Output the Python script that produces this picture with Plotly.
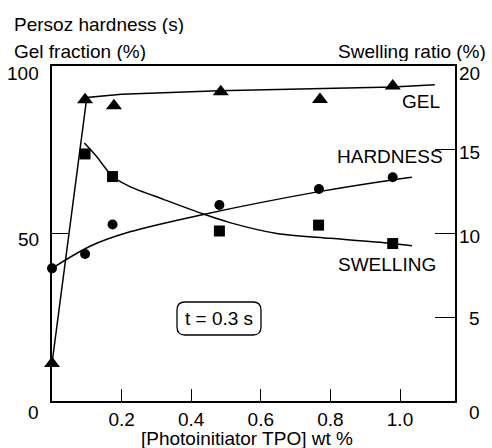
import plotly.graph_objects as go

# ---------------- data ----------------
gel_x = [0.0, 0.095, 0.178, 0.485, 0.770, 0.979]
gel_y = [11.2, 89.9, 88.1, 92.3, 90.0, 94.0]
gel_fit_x = [0.0, 0.10, 0.20, 0.48, 0.98, 1.10]
gel_fit_y = [11.2, 90.6, 91.6, 92.6, 93.7, 94.4]

hard_x = [0.0, 0.095, 0.174, 0.481, 0.767, 0.979]
hard_y = [39.6, 43.9, 52.7, 58.5, 63.3, 66.8]
hard_fit_x = [0.0, 0.109, 0.224, 0.435, 0.767, 0.977, 1.034]
hard_fit_y = [39.6, 46.2, 50.5, 55.7, 62.5, 66.0, 66.8]

swell_x = [0.095, 0.174, 0.481, 0.766, 0.979]
swell_y = [14.75, 13.4, 10.15, 10.5, 9.4]
swell_fit_x = [0.093, 0.128, 0.174, 0.224, 0.32, 0.435, 0.511, 0.646, 0.799, 0.979, 1.034]
swell_fit_y = [15.4, 14.6, 13.4, 12.8, 12.04, 11.16, 10.65, 10.0, 9.71, 9.41, 9.27]

x_ticks = [0.2, 0.4, 0.6, 0.8, 1.0]
x_tick_text = ["0.2", "0.4", "0.6", "0.8", "1.0"]
left_ticks = [100, 50]
left_tick_text = ["100", "50"]
right_ticks = [20, 15, 10, 5, 0]
right_tick_text = ["20", "15", "10", "5", "0"]

# ---------------- layout geometry ----------------
W, H = 492, 448
L, R, T, B = 52, 37, 66, 47
PW, PH = W - L - R, H - T - B


def px_x(px):
    return (px - L) / PW


def px_y(py):
    return (H - B - py) / PH


FONT = "Liberation Sans, Arial, sans-serif"
FS = 19
BLACK = "black"

fig = go.Figure()

# fitted lines
fig.add_trace(go.Scatter(x=gel_fit_x, y=gel_fit_y, mode="lines", cliponaxis=False,
                         line=dict(color=BLACK, width=1.5), showlegend=False))
fig.add_trace(go.Scatter(x=hard_fit_x, y=hard_fit_y, mode="lines", cliponaxis=False,
                         line=dict(color=BLACK, width=1.5, shape="spline", smoothing=0.8),
                         showlegend=False))
fig.add_trace(go.Scatter(x=swell_fit_x, y=swell_fit_y, mode="lines", yaxis="y2",
                         line=dict(color=BLACK, width=1.5, shape="spline", smoothing=0.8),
                         showlegend=False))

# markers
fig.add_trace(go.Scatter(x=gel_x, y=gel_y, mode="markers", cliponaxis=False,
                         marker=dict(symbol="triangle-up", size=14, color=BLACK),
                         showlegend=False))
fig.add_trace(go.Scatter(x=hard_x, y=hard_y, mode="markers", cliponaxis=False,
                         marker=dict(symbol="circle", size=10, color=BLACK),
                         showlegend=False))
fig.add_trace(go.Scatter(x=swell_x, y=swell_y, mode="markers", yaxis="y2", cliponaxis=False,
                         marker=dict(symbol="square", size=11, color=BLACK),
                         showlegend=False))

annotations = []
# "0" label at bottom-left corner
annotations.append(dict(text="0", xref="paper", yref="paper", x=px_x(33), y=px_y(412),
                        showarrow=False, xanchor="center", yanchor="middle",
                        font=dict(family=FONT, size=FS, color=BLACK)))
# left tick labels
left_shift = {100: -7, 50: -5}
for v, t in zip(left_ticks, left_tick_text):
    annotations.append(dict(text=t, xref="paper", yref="y", x=0, y=v, height=20,
                            xshift=-11, yshift=left_shift[v], showarrow=False,
                            xanchor="right", yanchor="middle",
                            font=dict(family=FONT, size=FS, color=BLACK)))
# right tick labels
right_shift = {20: -7, 15: -2, 10: -2, 5: -1, 0: -11}
for v, t in zip(right_ticks, right_tick_text):
    annotations.append(dict(text=t, xref="paper", yref="y2", x=1, y=v, height=20,
                            xshift=27, yshift=right_shift[v], showarrow=False,
                            xanchor="right", yanchor="middle",
                            font=dict(family=FONT, size=FS, color=BLACK)))

# series labels
for txt, xv, yv in [("GEL", 1.061, 89.3), ("HARDNESS", 0.972, 72.9), ("SWELLING", 0.963, 40.6)]:
    annotations.append(dict(text=txt, xref="x", yref="y", x=xv, y=yv, showarrow=False,
                            xanchor="center", yanchor="middle",
                            font=dict(family=FONT, size=FS, color=BLACK)))

# axis titles
annotations.append(dict(text="Persoz hardness (s)", xref="paper", yref="paper",
                        x=px_x(12), y=px_y(24), showarrow=False, xanchor="left", height=20,
                        yanchor="middle", font=dict(family=FONT, size=FS, color=BLACK)))
annotations.append(dict(text="Gel fraction (%)", xref="paper", yref="paper",
                        x=px_x(12), y=px_y(51), showarrow=False, xanchor="left", height=20,
                        yanchor="middle", font=dict(family=FONT, size=FS, color=BLACK)))
annotations.append(dict(text="Swelling ratio (%)", xref="paper", yref="paper",
                        x=px_x(488), y=px_y(51), showarrow=False, xanchor="right", height=20,
                        yanchor="middle", font=dict(family=FONT, size=FS, color=BLACK)))
annotations.append(dict(text="[Photoinitiator TPO] wt %", xref="paper", yref="paper",
                        x=px_x(247), y=px_y(438), showarrow=False, xanchor="center",
                        yanchor="middle", font=dict(family=FONT, size=FS, color=BLACK)))
annotations.append(dict(text="t = 0.3 s", xref="paper", yref="paper",
                        x=px_x(218.5), y=px_y(318), showarrow=False, xanchor="center",
                        yanchor="middle", font=dict(family=FONT, size=FS, color=BLACK)))

# rounded box around "t = 0.3 s"
x0, x1, y0, y1, r = 177, 261, 302, 335, 8


def P(px, py):
    return f"{px_x(px):.5f},{px_y(py):.5f}"


path = (f"M {P(x0 + r, y0)} L {P(x1 - r, y0)} Q {P(x1, y0)} {P(x1, y0 + r)} "
        f"L {P(x1, y1 - r)} Q {P(x1, y1)} {P(x1 - r, y1)} "
        f"L {P(x0 + r, y1)} Q {P(x0, y1)} {P(x0, y1 - r)} "
        f"L {P(x0, y0 + r)} Q {P(x0, y0)} {P(x0 + r, y0)} Z")
shapes = [dict(type="path", xref="paper", yref="paper", path=path,
               line=dict(color=BLACK, width=1.3))]

fig.update_layout(
    width=W, height=H,
    margin=dict(l=L, r=R, t=T, b=B, pad=0),
    paper_bgcolor="white", plot_bgcolor="white",
    font=dict(family=FONT, size=FS, color=BLACK),
    xaxis=dict(range=[0, 1.158], showgrid=False, zeroline=False,
               showline=True, linecolor=BLACK, linewidth=1.5, mirror=True,
               ticks="inside", ticklen=12, tickwidth=1.3, tickcolor=BLACK,
               tickvals=x_ticks, ticktext=x_tick_text,
               tickfont=dict(family=FONT, size=FS, color=BLACK)),
    yaxis=dict(range=[0, 100], showgrid=False, zeroline=False,
               showline=True, linecolor=BLACK, linewidth=1.5,
               ticks="inside", ticklen=16, tickwidth=1.3, tickcolor=BLACK,
               tickvals=[50], showticklabels=False),
    yaxis2=dict(range=[0, 20], overlaying="y", side="right", showgrid=False,
                zeroline=False, showline=True, linecolor=BLACK, linewidth=1.5,
                ticks="inside", ticklen=20, tickwidth=1.3, tickcolor=BLACK,
                tickvals=[5, 10, 15], showticklabels=False),
    annotations=annotations,
    shapes=shapes,
)

fig.write_html("out.html")
